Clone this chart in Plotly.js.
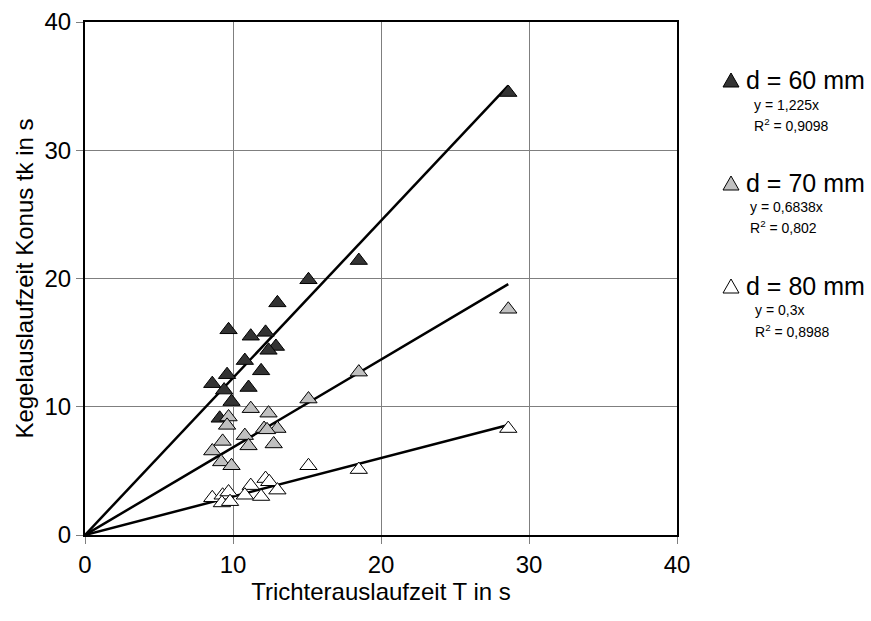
<!DOCTYPE html>
<html>
<head>
<meta charset="utf-8">
<script src="https://cdn.plot.ly/plotly-3.0.1.min.js"></script>
<style>html,body{margin:0;padding:0;background:#fff;}#chart{width:871px;height:621px;}</style>
</head>
<body>
<div id="chart"></div>
<script>
// Data
var x60 = [28.6, 18.5, 15.1, 13.0, 9.7, 11.2, 12.2, 12.9, 12.4, 10.8, 11.9, 9.6, 8.6, 11.05, 9.4, 9.9, 9.1];
var y60 = [34.5, 21.4, 19.9, 18.1, 16.0, 15.5, 15.8, 14.7, 14.4, 13.6, 12.8, 12.5, 11.8, 11.5, 11.3, 10.4, 9.1];
var x70 = [28.6, 18.5, 15.1, 11.2, 12.4, 9.7, 9.6, 12.1, 13.0, 12.3, 10.8, 12.75, 9.3, 11.05, 8.6, 9.2, 9.9];
var y70 = [17.6, 12.7, 10.6, 9.85, 9.5, 9.2, 8.55, 8.3, 8.3, 8.2, 7.75, 7.1, 7.3, 6.95, 6.55, 5.7, 5.4];
var x80 = [28.6, 18.5, 15.1, 12.2, 12.45, 11.2, 13.0, 10.8, 11.9, 8.6, 9.3, 9.7, 9.25, 9.8];
var y80 = [8.3, 5.1, 5.4, 4.4, 4.15, 3.85, 3.5, 3.1, 3.0, 2.9, 3.1, 3.35, 2.5, 2.6];
var seriesNames = ['d = 60 mm', 'd = 70 mm', 'd = 80 mm'];
var slopes = [1.225, 0.6838, 0.3];
var eqLabels = ['y = 1,225x', 'y = 0,6838x', 'y = 0,3x'];
var r2Labels = ['R<sup>2</sup> = 0,9098', 'R<sup>2</sup> = 0,802', 'R<sup>2</sup> = 0,8988'];
var fills = ['#333333', '#c0c0c0', '#ffffff'];
var xTicks = [0, 10, 20, 30, 40];
var yTicks = [0, 10, 20, 30, 40];

var xs = [x60, x70, x80], ys = [y60, y70, y80];
var font = 'Arial, "Liberation Sans", sans-serif';
var traces = [];
for (var i = 0; i < 3; i++) {
  var xmax = Math.max.apply(null, xs[i]);
  traces.push({
    x: [0, xmax], y: [0, slopes[i] * xmax], mode: 'lines', type: 'scatter',
    line: {color: '#000', width: 2.5}, showlegend: false, hoverinfo: 'skip'
  });
}
for (var i = 0; i < 3; i++) {
  traces.push({
    x: xs[i], y: ys[i], mode: 'markers', type: 'scatter', name: seriesNames[i],
    marker: {symbol: 'triangle-up', size: 15, color: fills[i], line: {color: '#000', width: 1}},
    showlegend: false
  });
}

// legend geometry (pixels -> paper)
var L = 85, R = 677, T = 22, B = 535;
function px(v) { return (v - L) / (R - L); }
function py(v) { return (B - v) / (B - T); }
var legY = [80, 183, 286];
var eqDy = [25, 24, 24];
var r2Dy = [45, 44, 45];
var eqX = [752, 748, 753];
var shapes = [], annotations = [];
for (var i = 0; i < 3; i++) {
  var cx = 731, cy = legY[i], w = 8, h = 7;
  var path = 'M ' + px(cx - w) + ' ' + py(cy + h) + ' L ' + px(cx + w) + ' ' + py(cy + h) + ' L ' + px(cx) + ' ' + py(cy - h) + ' Z';
  shapes.push({type: 'path', xref: 'paper', yref: 'paper', path: path,
    fillcolor: fills[i], line: {color: '#000', width: 1}});
  annotations.push({xref: 'paper', yref: 'paper', x: px(744), y: py(cy), xanchor: 'left', yanchor: 'middle',
    text: seriesNames[i], showarrow: false, font: {family: font, size: 25, color: '#000'}});
  annotations.push({xref: 'paper', yref: 'paper', x: px(eqX[i]), y: py(cy + eqDy[i]), xanchor: 'left', yanchor: 'middle',
    text: eqLabels[i], showarrow: false, font: {family: font, size: 14, color: '#000'}});
  annotations.push({xref: 'paper', yref: 'paper', x: px(eqX[i]), y: py(cy + r2Dy[i]), xanchor: 'left', yanchor: 'middle',
    text: r2Labels[i], showarrow: false, font: {family: font, size: 14, color: '#000'}});
}

var layout = {
  width: 871, height: 621,
  margin: {l: L, r: 871 - R, t: T, b: 621 - B},
  paper_bgcolor: '#fff', plot_bgcolor: '#fff',
  font: {family: font, size: 24, color: '#000'},
  showlegend: false,
  xaxis: {range: [0, 40], tickvals: xTicks, ticktext: xTicks.map(String),
    showgrid: true, gridcolor: '#7f7f7f', gridwidth: 1, zeroline: false,
    showline: true, linecolor: '#000', linewidth: 2, mirror: true,
    ticks: 'outside', ticklen: 7, tickcolor: '#7f7f7f', tickwidth: 1,
    tickfont: {family: font, size: 24},
    title: {text: 'Trichterauslaufzeit T in s', font: {family: font, size: 24}, standoff: 6}},
  yaxis: {range: [0, 40], tickvals: yTicks, ticktext: yTicks.map(String),
    showgrid: true, gridcolor: '#7f7f7f', gridwidth: 1, zeroline: false,
    showline: true, linecolor: '#000', linewidth: 2, mirror: true,
    ticks: 'outside', ticklen: 7, tickcolor: '#7f7f7f', tickwidth: 1,
    tickfont: {family: font, size: 24},
    title: {text: 'Kegelauslaufzeit Konus tk in s', font: {family: font, size: 24}, standoff: 4}},
  shapes: shapes,
  annotations: annotations
};
Plotly.newPlot('chart', traces, layout, {displayModeBar: false, staticPlot: true});
</script>
</body>
</html>
